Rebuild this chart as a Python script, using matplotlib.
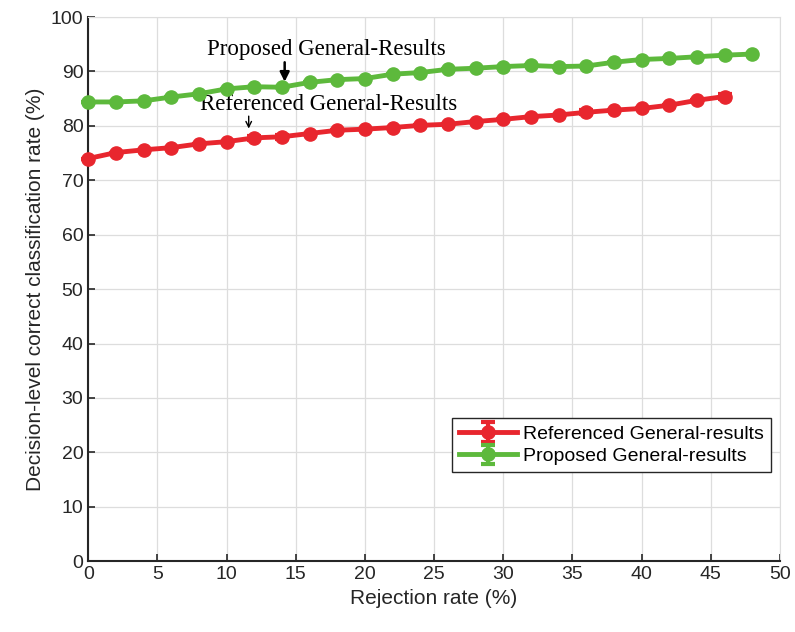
import numpy as np
import matplotlib.pyplot as plt

# Data
x_ref = np.arange(0, 48, 2)
y_ref = [74.0, 75.1, 75.6, 76.0, 76.7, 77.1, 77.8, 78.0, 78.6, 79.2, 79.4, 79.7,
         80.1, 80.3, 80.8, 81.2, 81.7, 82.0, 82.5, 82.9, 83.2, 83.8, 84.7, 85.4]
err_ref = [0, 0, 0, 0, 0, 0, 0.4, 0.4, 0, 0, 0, 0,
           0, 0, 0, 0, 0, 0, 0.4, 0, 0, 0, 0, 0.4]

x_prop = np.arange(0, 50, 2)
y_prop = [84.4, 84.4, 84.6, 85.3, 85.9, 86.8, 87.2, 87.1, 88.0, 88.5, 88.7, 89.5,
          89.8, 90.4, 90.6, 90.9, 91.1, 90.9, 91.0, 91.7, 92.2, 92.4, 92.7, 93.0, 93.2]
err_prop = [0] * len(x_prop)

red = '#E8262E'
green = '#5DB93C'

plt.rcParams['font.family'] = ['Liberation Sans', 'DejaVu Sans']

fig = plt.figure(figsize=(7.95, 6.32), dpi=100)
ax = fig.add_axes([0.111, 0.112, 0.870, 0.861])

for x, y, e, c, lab in [(x_ref, y_ref, err_ref, red, 'Referenced General-results'),
                        (x_prop, y_prop, err_prop, green, 'Proposed General-results')]:
    eb = ax.errorbar(x, y, yerr=e, color=c, lw=3.5, marker='o', ms=9.5,
                     capsize=5, capthick=3, elinewidth=3, label=lab, zorder=3)
    for artist in eb.lines[0:1] + tuple(eb.lines[1]) + tuple(eb.lines[2]):
        artist.set_clip_on(False)

# Annotations
ax.text(17.2, 92.1, 'Proposed General-Results', ha='center', va='bottom',
        fontsize=16.5, family='Liberation Serif')
ax.annotate('', xy=(14.2, 87.6), xytext=(14.2, 92.2),
            arrowprops=dict(arrowstyle='-|>', color='black', lw=1.8, mutation_scale=14))
ax.text(17.4, 82.0, 'Referenced General-Results', ha='center', va='bottom',
        fontsize=16.5, family='Liberation Serif')
ax.annotate('', xy=(11.6, 79.0), xytext=(11.6, 82.3),
            arrowprops=dict(arrowstyle='->', color='black', lw=1.0, mutation_scale=10))

ax.set_xlim(0, 50)
ax.set_ylim(0, 100)
ax.set_xticks(np.arange(0, 51, 5))
ax.set_yticks(np.arange(0, 101, 10))
ax.grid(True, color='#DDDDDD', lw=0.9)
ax.set_axisbelow(True)
ax.tick_params(direction='in', labelsize=14, length=5, width=1.2, colors='#262626')
for s in ['top', 'right']:
    ax.spines[s].set_color('#DDDDDD')
for s in ['left', 'bottom']:
    ax.spines[s].set_linewidth(1.5)
    ax.spines[s].set_color('#262626')

ax.set_xlabel('Rejection rate (%)', fontsize=15, color='#262626')
ax.set_ylabel('Decision-level correct classification rate (%)', fontsize=15, color='#262626')

leg = ax.legend(loc='lower right', bbox_to_anchor=(0.987, 0.164), fontsize=14,
                fancybox=False, framealpha=1, edgecolor='#262626', handlelength=3.0,
                borderaxespad=0, handletextpad=0.3, borderpad=0.35, labelspacing=0.25)
leg.get_frame().set_linewidth(1.0)

fig.savefig('out.png', dpi=100)
